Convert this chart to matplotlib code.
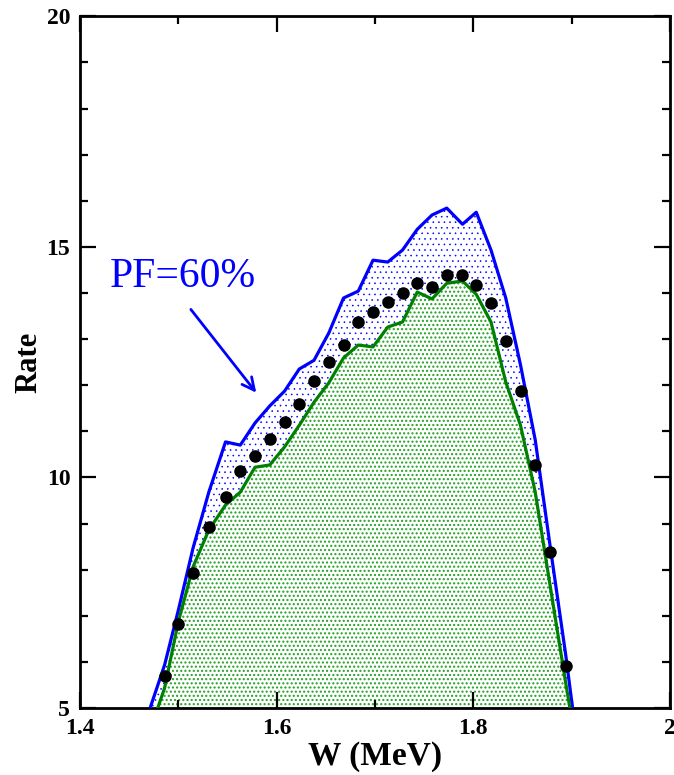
import matplotlib
matplotlib.use("Agg")
import matplotlib.pyplot as plt
import numpy as np

# ---- data ----
w_grid = [1.471, 1.486, 1.500, 1.515, 1.531, 1.548, 1.563, 1.578, 1.593, 1.608,
          1.623, 1.638, 1.653, 1.668, 1.683, 1.698, 1.713, 1.728, 1.743, 1.758,
          1.773, 1.789, 1.803, 1.818, 1.833, 1.848, 1.863, 1.878, 1.894, 1.910]
upper = [4.98, 5.93, 7.12, 8.47, 9.68, 10.77, 10.70, 11.18, 11.55, 11.87,
         12.35, 12.54, 13.13, 13.89, 14.04, 14.71, 14.67, 14.93, 15.38, 15.69,
         15.84, 15.49, 15.75, 14.93, 13.89, 12.44, 10.81, 8.53, 6.15, 3.5]
lower = [4.50, 5.43, 6.87, 8.06, 8.86, 9.40, 9.68, 10.22, 10.27, 10.66,
         11.13, 11.63, 12.05, 12.59, 12.87, 12.83, 13.26, 13.37, 14.02, 13.87,
         14.21, 14.26, 13.97, 13.37, 12.07, 11.13, 9.68, 7.67, 5.54, 3.5]
dots_w = w_grid[1:-1]
dots_rate = [5.69, 6.82, 7.93, 8.92, 9.57, 10.14, 10.46, 10.83, 11.20, 11.59,
             12.09, 12.50, 12.87, 13.37, 13.58, 13.80, 14.00, 14.21, 14.13, 14.39,
             14.39, 14.17, 13.78, 12.96, 11.87, 10.27, 8.38, 5.91]
x_ticks = [1.4, 1.6, 1.8, 2.0]
x_ticklabels = ["1.4", "1.6", "1.8", "2"]
y_ticks = [5, 10, 15, 20]
y_ticklabels = ["5", "10", "15", "20"]
annot_text = "PF=60%"

serif = ["Liberation Serif", "DejaVu Serif"]

fig = plt.figure(figsize=(6.74, 7.75), dpi=100)
ax = fig.add_axes([0.1187, 0.0865, 0.8753, 0.8925])

base = np.full(len(w_grid), 5.0)
with plt.rc_context({"hatch.linewidth": 1.0, "hatch.color": "#22a022"}):
    ax.fill_between(w_grid, base, lower, facecolor="white", edgecolor="#22a022",
                    hatch="....", linewidth=0, zorder=1)
with plt.rc_context({"hatch.linewidth": 0.4, "hatch.color": "#0000ff"}):
    ax.fill_between(w_grid, lower, upper, facecolor="white", edgecolor="#0000ff",
                    hatch="...", linewidth=0, zorder=1)
ax.plot(w_grid, upper, color="#0000ff", lw=2.3, zorder=3)
ax.plot(w_grid, lower, color="#008000", lw=2.3, zorder=3)
ax.plot(dots_w, dots_rate, "o", color="black", ms=8, zorder=4)

ax.text(1.4305, 14.13, annot_text, color="#0000ff", fontsize=30,
        family=serif, ha="left", va="baseline")
ax.annotate("", xy=(1.581, 11.79), xytext=(1.511, 13.69),
            arrowprops=dict(arrowstyle="->", color="#0000ff", lw=2,
                            mutation_scale=22))

ax.set_xlim(1.4, 2.0)
ax.set_ylim(5, 20)
ax.set_xticks(x_ticks)
ax.set_xticklabels(x_ticklabels)
ax.set_yticks(y_ticks)
ax.set_yticklabels(y_ticklabels)
ax.set_xticks(np.arange(1.5, 2.0, 0.2), minor=True)
ax.set_yticks([v for v in range(6, 20) if v % 5], minor=True)

ax.tick_params(which="both", direction="in", top=True, right=True, width=1.6)
ax.tick_params(which="major", length=11.5, pad=7)
ax.tick_params(which="minor", length=6)
for lab in ax.get_xticklabels() + ax.get_yticklabels():
    lab.set_family(serif)
    lab.set_fontweight("bold")
    lab.set_fontsize(17)
for s in ax.spines.values():
    s.set_linewidth(2)

ax.set_xlabel("W (MeV)", family=serif, fontweight="bold", fontsize=24, labelpad=2)
ax.set_ylabel("Rate", family=serif, fontweight="bold", fontsize=22, labelpad=2)

fig.savefig("out.png", dpi=100)
